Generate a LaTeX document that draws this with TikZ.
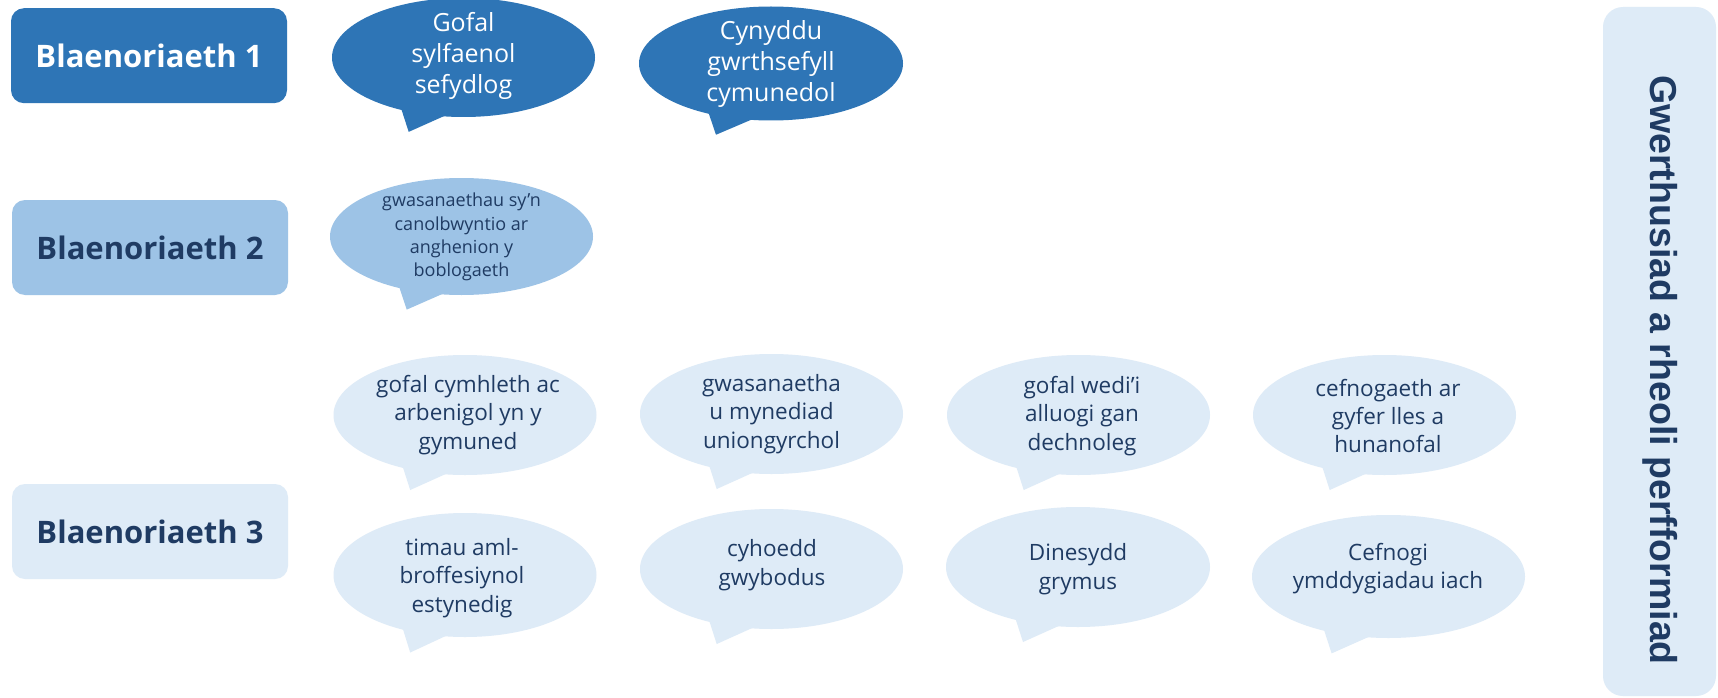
\documentclass[tikz,border=0pt]{standalone}
\usepackage{fontspec}
\setmainfont{Open Sans}
\newfontfamily\sidefont{Liberation Sans}
\usetikzlibrary{calc}
\definecolor{dblue}{HTML}{2E75B6}
\definecolor{mblue}{HTML}{9DC3E6}
\definecolor{lblue}{HTML}{DEEBF7}
\definecolor{navy}{HTML}{1F3B63}
% #1 cx, #2 cy, #3 rx, #4 ry, #5 fill colour
\newcommand\mycallout[5]{%
  \fill[#5] (#1,#2) ellipse [x radius=#3, y radius=#4];
  \fill[#5] ({#1-0.476*#3},{#2+0.845*#4}) -- ({#1-0.4167*#3},{#2+1.25*#4}) -- ({#1-0.125*#3},{#2+0.962*#4}) -- cycle;
}
\tikzset{
  prio/.style={rounded corners=13pt, minimum width=276pt, minimum height=95pt, inner sep=0pt,
    font=\bfseries\fontsize{31}{36}\selectfont},
  bubtxt/.style={inner sep=0pt, align=center},
  rowone/.style={bubtxt, text=white, font=\fontsize{25}{31}\selectfont},
  rowtwo/.style={bubtxt, text=navy, font=\fontsize{18}{23.3}\selectfont},
  rowthree/.style={bubtxt, text=navy, font=\fontsize{22.5}{28.3}\selectfont},
}
\begin{document}
\begin{tikzpicture}[x=1pt,y=-1pt]
\useasboundingbox (0,0) rectangle (1718,698);
\fill[white] (0,0) rectangle (1718,698);

% priority boxes
\node[prio, fill=dblue, text=white] (p1) at (149,55.7) {Blaenoriaeth 1};
\node[prio, fill=mblue, text=navy] (p2) at (150,247.5) {Blaenoriaeth 2};
\node[prio, fill=lblue, text=navy] (p3) at (150,531.5) {Blaenoriaeth 3};

% side box
\node[fill=lblue, rounded corners=20pt, minimum width=113pt, minimum height=689pt, inner sep=0pt] (side) at (1659.5,351.5) {};
\node[rotate=-90, text=navy, inner sep=0pt, font=\sidefont\bfseries\fontsize{37.5}{44}\selectfont] (sidetxt) at (1660,370) {Gwerthusiad a rheoli perfformiad};

% row 1
\mycallout{463.5}{57.5}{131.5}{59.5}{dblue}
\node[rowone] (b1) at (463.5,56) {Gofal\\sylfaenol\\sefydlog};
\mycallout{771}{63.5}{132}{57}{dblue}
\node[rowone] (b2) at (771,64) {Cynyddu\\gwrthsefyll\\cymunedol};

% row 2
\mycallout{461.5}{236.5}{131.5}{58.5}{mblue}
\node[rowtwo] (c1) at (461.5,237) {gwasanaethau sy'n\\canolbwyntio ar\\anghenion y\\boblogaeth};

% row 3a
\mycallout{465}{415}{131.5}{60}{lblue}
\node[rowthree] (d1) at (468,415) {gofal cymhleth ac\\arbenigol yn y\\gymuned};
\mycallout{771.5}{414}{131.5}{60}{lblue}
\node[rowthree] (d2) at (771.5,414) {gwasanaetha\\u mynediad\\uniongyrchol};
\mycallout{1078.5}{415}{131.5}{60}{lblue}
\node[rowthree] (d3) at (1082,416) {gofal wedi'i\\alluogi gan\\dechnoleg};
\mycallout{1384.5}{415}{131.5}{60}{lblue}
\node[rowthree] (d4) at (1388,416) {cefnogaeth ar\\gyfer lles a\\hunanofal};

% row 3b
\mycallout{465}{575}{131.5}{62}{lblue}
\node[rowthree] (e1) at (462,578) {timau aml-\\broffesiynol\\estynedig};
\mycallout{771.5}{569}{131.5}{60}{lblue}
\node[rowthree] (e2) at (772,565) {cyhoedd\\gwybodus};
\mycallout{1078}{567}{132}{60}{lblue}
\node[rowthree] (e3) at (1078,569) {Dinesydd\\grymus};
\mycallout{1388.5}{576.5}{136.5}{61.5}{lblue}
\node[rowthree] (e4) at (1388,568.5) {Cefnogi\\ymddygiadau iach};
\end{tikzpicture}
\end{document}
